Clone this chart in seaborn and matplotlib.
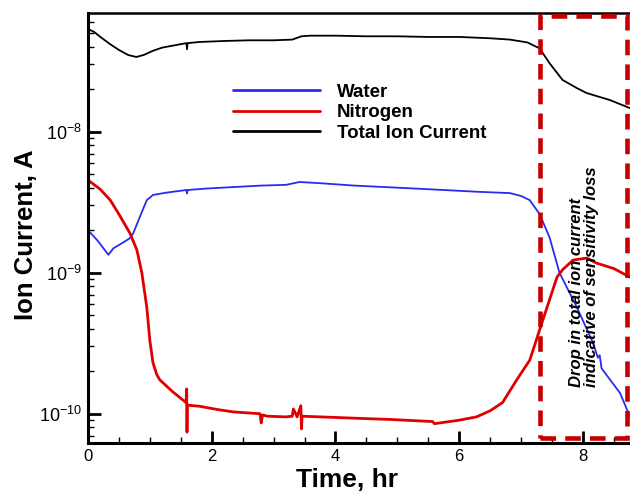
import matplotlib
matplotlib.use("Agg")
import matplotlib.pyplot as plt
import matplotlib.patches as mpatches
import matplotlib.transforms as mtransforms
from matplotlib.ticker import LogLocator, MultipleLocator, NullFormatter, LogFormatterSciNotation
import seaborn as sns
import pandas as pd

# ---- data ----
t_total = [0, 0.1, 0.2, 0.35, 0.5, 0.65, 0.78, 0.9, 1.05, 1.2, 1.4, 1.59, 1.6, 1.61, 1.8, 2.2, 2.6,
           3.0, 3.3, 3.45, 3.6, 4.0, 4.5, 5.0, 5.5, 6.0, 6.5, 6.82, 7.1, 7.3, 7.46, 7.67, 7.9, 8.06,
           8.43, 8.76]
total = [5.35e-8, 5.1e-8, 4.7e-8, 4.2e-8, 3.8e-8, 3.5e-8, 3.39e-8, 3.5e-8, 3.75e-8, 3.95e-8, 4.1e-8,
         4.25e-8, 3.85e-8, 4.25e-8, 4.33e-8, 4.4e-8, 4.45e-8, 4.45e-8, 4.5e-8, 4.75e-8, 4.8e-8, 4.8e-8,
         4.75e-8, 4.75e-8, 4.7e-8, 4.7e-8, 4.6e-8, 4.5e-8, 4.3e-8, 3.9e-8, 3.06e-8, 2.33e-8, 2.04e-8,
         1.88e-8, 1.68e-8, 1.47e-8]

t_water = [0, 0.15, 0.33, 0.41, 0.55, 0.68, 0.73, 0.84, 0.95, 1.05, 1.27, 1.59, 1.6, 1.61, 1.9, 2.35,
           2.8, 3.2, 3.42, 3.8, 4.3, 4.8, 5.3, 5.8, 6.3, 6.82, 7.0, 7.14, 7.3, 7.46, 7.62, 7.9, 8.16,
           8.24, 8.27, 8.3, 8.6, 8.76]
water = [2.0e-9, 1.7e-9, 1.34e-9, 1.49e-9, 1.62e-9, 1.76e-9, 1.9e-9, 2.5e-9, 3.27e-9, 3.56e-9, 3.7e-9,
         3.86e-9, 3.65e-9, 3.86e-9, 3.95e-9, 4.05e-9, 4.15e-9, 4.2e-9, 4.4e-9, 4.3e-9, 4.15e-9,
         4.05e-9, 3.95e-9, 3.85e-9, 3.75e-9, 3.67e-9, 3.5e-9, 3.27e-9, 2.6e-9, 1.78e-9, 1.0e-9,
         5.7e-10, 3.2e-10, 2.5e-10, 2.6e-10, 2.1e-10, 1.4e-10, 9.5e-11]

t_nitrogen = [0, 0.2, 0.36, 0.5, 0.68, 0.79, 0.87, 0.95, 1.0, 1.05, 1.11, 1.16, 1.37, 1.585, 1.595,
              1.60, 1.605, 1.8, 2.1, 2.35, 2.78, 2.8, 2.82, 2.9, 3.2, 3.3, 3.32, 3.38, 3.44, 3.45,
              3.46, 3.75, 4.3, 4.9, 5.57, 5.6, 6.0, 6.28, 6.5, 6.7, 6.93, 7.14, 7.35, 7.58, 7.67,
              7.84, 8.06, 8.22, 8.5, 8.76]
nitrogen = [4.54e-9, 3.9e-9, 3.27e-9, 2.6e-9, 1.9e-9, 1.45e-9, 1.0e-9, 5.7e-10, 3.3e-10, 2.3e-10,
            1.9e-10, 1.74e-10, 1.43e-10, 1.2e-10, 1.5e-10, 7.4e-11, 1.15e-10, 1.13e-10, 1.07e-10,
            1.03e-10, 1.0e-10, 8.6e-11, 9.8e-11, 9.6e-11, 9.5e-11, 9.6e-11, 1.08e-10, 9.5e-11,
            1.14e-10, 7.8e-11, 9.6e-11, 9.5e-11, 9.3e-11, 9.1e-11, 8.8e-11, 8.5e-11, 9.0e-11,
            9.5e-11, 1.05e-10, 1.2e-10, 1.74e-10, 2.4e-10, 4.6e-10, 9.3e-10, 1.05e-9, 1.23e-9,
            1.27e-9, 1.17e-9, 1.07e-9, 9.3e-10]

series_labels = ["Water", "Nitrogen", "Total Ion Current"]
x_ticks = [0, 2, 4, 6, 8]
y_ticks = [1e-10, 1e-9, 1e-8]
annotation = "Drop in total ion current\nindicative of sensitivity loss"
box_x = [7.3, 8.71]

# ---- style ----
sns.set_style("ticks")
plt.rcParams['font.family'] = ['Liberation Sans', 'DejaVu Sans']
plt.rcParams['mathtext.fontset'] = 'custom'
plt.rcParams['mathtext.rm'] = 'Liberation Sans'
plt.rcParams['mathtext.default'] = 'regular'
plt.rcParams['axes.unicode_minus'] = False
plt.rcParams['text.color'] = 'black'
plt.rcParams['axes.labelcolor'] = 'black'

fig = plt.figure(figsize=(6.3, 4.93), dpi=100)
ax = fig.add_axes([88 / 630, 50 / 493, 542 / 630, 430 / 493])

df_w = pd.DataFrame({"t": t_water, "v": water})
df_n = pd.DataFrame({"t": t_nitrogen, "v": nitrogen})
df_t = pd.DataFrame({"t": t_total, "v": total})

sns.lineplot(data=df_w, x="t", y="v", ax=ax, color="#2a2af5", lw=1.3, label=series_labels[0],
             estimator=None, sort=False)
sns.lineplot(data=df_n, x="t", y="v", ax=ax, color="#e00000", lw=2.0, label=series_labels[1],
             estimator=None, sort=False)
sns.lineplot(data=df_t, x="t", y="v", ax=ax, color="black", lw=1.3, label=series_labels[2],
             estimator=None, sort=False)

ax.set_yscale("log")
ax.set_xlim(0, 8.76)
ax.set_ylim(6.2e-11, 6.95e-8)
ax.set_xticks(x_ticks)
ax.set_yticks(y_ticks)
ax.yaxis.set_major_formatter(LogFormatterSciNotation())
ax.minorticks_on()
ax.xaxis.set_minor_locator(MultipleLocator(0.5))
ax.yaxis.set_minor_locator(LogLocator(base=10, subs=range(2, 10), numticks=20))
ax.yaxis.set_minor_formatter(NullFormatter())
ax.xaxis.set_minor_formatter(NullFormatter())

ax.tick_params(axis="both", which="major", direction="in", length=9, width=2,
               color="black", labelcolor="black")
ax.tick_params(axis="both", which="minor", direction="in", length=4.5, width=1, color="black")
ax.tick_params(axis="x", which="major", pad=4, labelsize=12)
ax.tick_params(axis="y", which="major", pad=4, labelsize=13)

for s in ["left", "bottom"]:
    ax.spines[s].set_linewidth(2.2)
    ax.spines[s].set_color("black")
ax.spines["top"].set_linewidth(1.8)
ax.spines["top"].set_color("black")
ax.spines["right"].set_visible(False)

ax.set_xlabel("Time, hr", fontsize=19, fontweight="bold")
ax.xaxis.set_label_coords(0.478, -0.058)
ax.set_ylabel("Ion Current, A", fontsize=18.5, fontweight="bold")
ax.yaxis.set_label_coords(-0.092, 0.485)

leg = ax.legend(loc="upper left", bbox_to_anchor=(0.268, 0.836), frameon=False,
                handlelength=4.64, handletextpad=0.9, labelspacing=0.18,
                borderaxespad=0, borderpad=0, prop={"weight": "bold", "size": 13.5})
for line in leg.get_lines():
    line.set_linewidth(2.0)

# dashed box
trans = mtransforms.blended_transform_factory(ax.transData, ax.transAxes)
rect = mpatches.Rectangle((box_x[0], 0.012), box_x[1] - box_x[0], 0.981, transform=trans,
                          fill=False, edgecolor="#c40000", lw=3.3, linestyle=(0, (3.4, 2.0)),
                          clip_on=False, zorder=5)
ax.add_patch(rect)

ax.text(8.02, 0.13, annotation, transform=trans, rotation=90, ha="center", va="bottom",
        multialignment="left", fontsize=12, fontweight="bold", fontstyle="italic",
        linespacing=1.0)

fig.savefig("out.png", dpi=100)
